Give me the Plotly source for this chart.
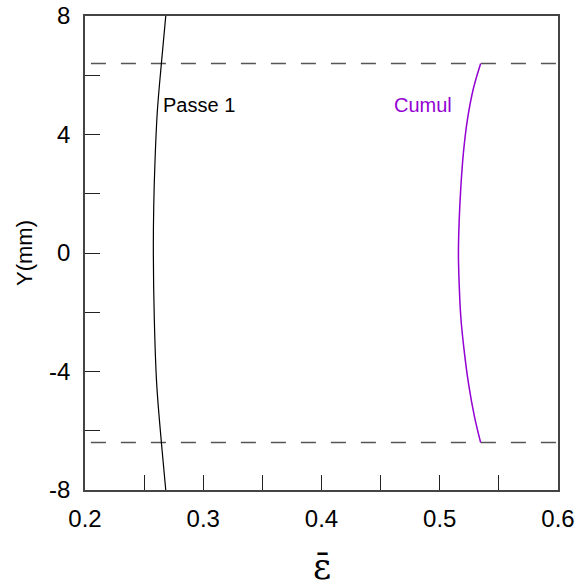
import plotly.graph_objects as go

# ---- data ----
passe1_y = [8.0, 6.4, 4.8, 3.1, 1.5, 0.0, -2.2, -4.4, -6.4, -8.0]
passe1_x = [0.2683, 0.2646, 0.2612, 0.2592, 0.2581, 0.2578, 0.2586, 0.2606, 0.2646, 0.2683]

cumul_y = [6.4, 5.56, 4.50, 3.38, 2.20, 1.06, 0.0, -1.02, -2.15, -3.28, -4.40, -5.53, -6.4]
cumul_x = [0.5346, 0.5285, 0.5234, 0.5200, 0.5178, 0.5164, 0.5158, 0.5164, 0.5178, 0.5206, 0.5243, 0.5294, 0.5346]

limit_levels = [6.4, -6.4]
limit_x = [0.205, 0.6]

x_range = [0.2, 0.6]
y_range = [-8, 8]
x_tickvals = [0.2, 0.3, 0.4, 0.5, 0.6]
x_ticktext = ["0.2", "0.3", "0.4", "0.5", "0.6"]
y_tickvals = [-8, -4, 0, 4, 8]
y_ticktext = ["-8", "-4", "0", "4", "8"]

FONT = "Liberation Sans, Arial, sans-serif"
PURPLE = "#9400D3"

fig = go.Figure()

for lv in limit_levels:
    fig.add_trace(go.Scatter(x=limit_x, y=[lv, lv], mode="lines",
                             line=dict(color="#555555", width=1.5, dash="15px,15px"),
                             hoverinfo="skip", showlegend=False))

fig.add_trace(go.Scatter(x=passe1_x, y=passe1_y, mode="lines",
                         line=dict(color="black", width=1.2, shape="spline"),
                         showlegend=False))
fig.add_trace(go.Scatter(x=cumul_x, y=cumul_y, mode="lines",
                         line=dict(color=PURPLE, width=1.5, shape="spline"),
                         showlegend=False))

fig.add_annotation(x=0.2643, y=5.0, text="Passe 1", showarrow=False,
                   xanchor="left", yanchor="middle",
                   font=dict(family=FONT, size=20, color="black"))
fig.add_annotation(x=0.486, y=5.0, text="Cumul", showarrow=False,
                   xanchor="center", yanchor="middle",
                   font=dict(family=FONT, size=20, color=PURPLE))

# axis titles
fig.add_annotation(xref="paper", yref="paper", x=0.5, y=-0.163,
                   text="\u03b5\u0304", showarrow=False,
                   xanchor="center", yanchor="middle",
                   font=dict(family="DejaVu Serif, serif", size=35, color="black"))
fig.add_annotation(xref="paper", yref="paper", x=-0.129, y=0.5,
                   text="Y(mm)", showarrow=False, textangle=-90,
                   xanchor="center", yanchor="middle",
                   font=dict(family=FONT, size=22, color="black"))

axis_common = dict(showgrid=False, zeroline=False, showline=True, mirror=True,
                   linecolor="#444444", linewidth=1.5, automargin=False,
                   ticklabeloverflow="allow",
                   ticks="inside", ticklen=15, tickwidth=1, tickcolor="#222222",
                   tickfont=dict(family=FONT, size=24, color="black"))

fig.update_xaxes(range=x_range, tickmode="array", tickvals=x_tickvals, ticktext=x_ticktext,
                 ticklabelstandoff=6,
                 minor=dict(ticks="inside", ticklen=15, tickwidth=1, tickcolor="#222222",
                            tick0=0.2, dtick=0.05),
                 **axis_common)
fig.update_yaxes(range=y_range, tickmode="array", tickvals=y_tickvals, ticktext=y_ticktext,
                 ticklabelstandoff=8,
                 minor=dict(ticks="inside", ticklen=15, tickwidth=1, tickcolor="#222222",
                            tick0=-8, dtick=2),
                 **axis_common)

fig.update_layout(width=577, height=586,
                  margin=dict(l=85, r=19, t=16, b=96),
                  paper_bgcolor="white", plot_bgcolor="white",
                  font=dict(family=FONT))

# remove the browser's default 8px body margin so the figure fills the window
fig.write_html("out.html",
               config={"displayModeBar": False},
               post_script="document.body.style.margin='0';document.body.style.overflow='hidden';")
